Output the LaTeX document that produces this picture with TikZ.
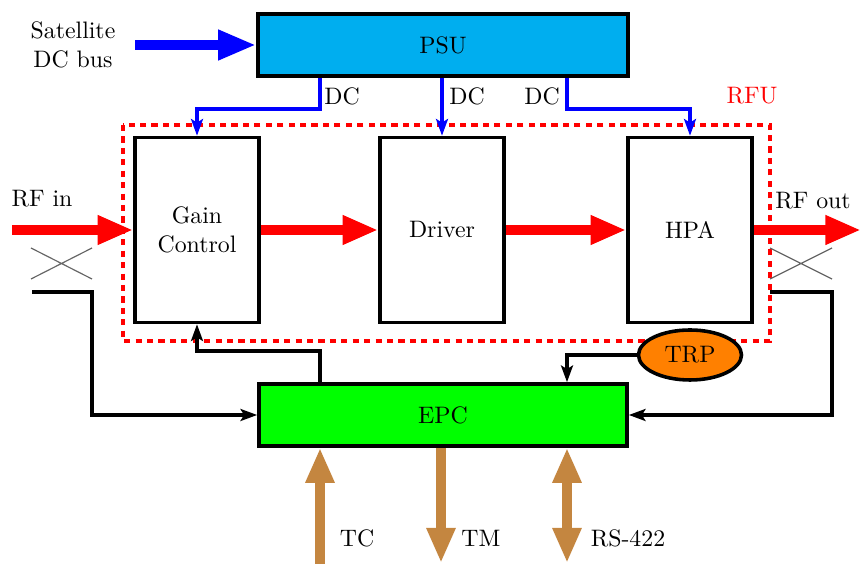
\documentclass[tikz,border=0pt]{standalone}
\usetikzlibrary{arrows.meta,shapes.geometric,calc}
\definecolor{psucol}{RGB}{0,174,239}
\definecolor{epccol}{RGB}{0,255,0}
\definecolor{trpcol}{RGB}{255,128,0}
\definecolor{brn}{RGB}{196,134,64}
\definecolor{dcblue}{RGB}{0,0,255}
\definecolor{rfred}{RGB}{255,0,0}
\begin{document}
\begin{tikzpicture}[x=0.42pt,y=-0.42pt,
  blk/.style={draw=black,line width=1.5pt,rectangle,inner sep=0pt,align=center},
  unit/.style={blk,minimum width=124*0.42pt,minimum height=185*0.42pt},
  dc/.style={draw=dcblue,line width=1.6pt,-{Stealth[length=7pt,width=5pt,inset=1.5pt]}},
  ctl/.style={draw=black,line width=1.5pt,-{Stealth[length=7pt,width=5pt,inset=1.5pt]}},
  rf/.style={draw=rfred,line width=4.6pt,-{Triangle[length=15pt,width=11.5pt]}},
  bus/.style={draw=dcblue,line width=4.2pt,-{Triangle[length=16pt,width=11.8pt]}},
  io/.style={draw=brn,line width=4.2pt,-{Triangle[length=14.7pt,width=11.3pt]}},
  iod/.style={draw=brn,line width=4.2pt,{Triangle[length=14.7pt,width=11.3pt]}-{Triangle[length=14.7pt,width=11.3pt]}},
  cpl/.style={draw=black!60,line width=0.5pt},
  lbl/.style={inner sep=0pt}]
\useasboundingbox (0,0) rectangle (861,564);

% RFU frame
\draw[rfred,line width=1.3pt,dash pattern=on 2.6pt off 2.2pt] (123,125) rectangle (770,341);
\node[lbl,text=rfred] (rfu) at (752,96) {RFU};

% blocks
\node[blk,fill=psucol,minimum width=370*0.42pt,minimum height=62*0.42pt] (psu) at (443,45) {PSU};
\node[unit] (gain) at (197,230) {Gain\\Control};
\node[unit] (driver) at (442,230) {Driver};
\node[unit] (hpa) at (690,230) {HPA};
\node[blk,fill=epccol,minimum width=368*0.42pt,minimum height=62*0.42pt] (epc) at (443,415) {EPC};
\node[ellipse,draw=black,line width=1.5pt,fill=trpcol,minimum width=103*0.42pt,minimum height=50*0.42pt,inner sep=0pt] (trp) at (690,355) {TRP};

% helper x positions
\coordinate (xa) at (320,0);
\coordinate (xc) at (567,0);

% satellite bus
\node[lbl,align=center] (sat) at (73,45) {Satellite\\DC bus};
\coordinate (satin) at (135,45);
\draw[bus] (satin) -- (psu.west);

% DC lines
\draw[dc] (psu.south -| xa) -- ++(0,31) -| (gain.north);
\draw[dc] (psu.south -| driver.north) -- (driver.north);
\draw[dc] (psu.south -| xc) -- ++(0,31) -| (hpa.north);
\node[lbl] (dc1) at (342,96) {DC};
\node[lbl] (dc2) at (467,96) {DC};
\node[lbl] (dc3) at (542,96) {DC};

% RF chain
\coordinate (rfin) at (12,230);
\coordinate (rfout) at (861,230);
\node[lbl] (rfinl) at (42,199) {RF in};
\node[lbl] (rfoutl) at (813,201) {RF out};
\draw[rf] (rfin) -- (gain.west);
\draw[rf] (gain.east) -- (driver.west);
\draw[rf] (driver.east) -- (hpa.west);
\draw[rf] (hpa.east) -- (rfout);

% couplers
\draw[cpl] (31,248) -- (92,279) (31,279) -- (92,248);
\draw[cpl] (770,248) -- (832,279) (770,279) -- (832,248);

% control lines
\coordinate (cin) at (32,292);
\coordinate (cout) at (770,292);
\draw[ctl] (cin) -- (92,292) |- (epc.west);
\draw[ctl] (cout) -- (832,292) |- (epc.east);
\draw[ctl] (epc.north -| xa) -- ++(0,-31) -| (gain.south);
\draw[ctl] (trp.west) -| (epc.north -| xc);

% TC / TM / RS-422
\coordinate (tcb) at (320,564);
\coordinate (tmb) at (441,563);
\coordinate (rsb) at (567,563);
\draw[io] (tcb) -- (epc.south -| xa);
\draw[io] (epc.south -| tmb) -- (tmb);
\draw[iod] (epc.south -| xc) -- (rsb);
\node[lbl] (tc) at (357,538) {TC};
\node[lbl] (tm) at (481,538) {TM};
\node[lbl] (rs) at (628,538) {RS-422};
\end{tikzpicture}
\end{document}
